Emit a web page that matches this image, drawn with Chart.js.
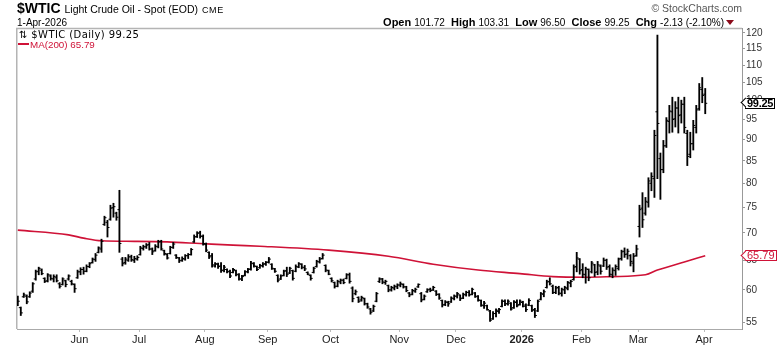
<!DOCTYPE html>
<html>
<head>
<meta charset="utf-8">
<script src="https://cdn.jsdelivr.net/npm/chart.js@4/dist/chart.umd.min.js"></script>
<style>
body { margin: 0; background: #fff; }
#wrap { position: relative; width: 780px; height: 345px; font-family: "Liberation Sans", Arial, sans-serif; color: #000; overflow: hidden; }
#wrap canvas { position: absolute; left: 0; top: 0; }
.t { position: absolute; white-space: nowrap; line-height: 1; }
#title { left: 17px; top: 1px; font-size: 14px; }
#title .sym { font-weight: bold; }
#title .nm { font-size: 10.5px; }
#title .ex { font-size: 9px; letter-spacing: 0.6px; }
#date { left: 17px; top: 17.5px; font-size: 10px; }
#quote { right: 46px; top: 16.7px; font-size: 11px; }
#quote span { font-size: 10px; }
#quote .tri { display: inline-block; width: 0; height: 0; border-left: 4px solid transparent; border-right: 4px solid transparent; border-top: 5px solid #8b0a1a; margin-left: 2px; vertical-align: 1px; }
#copy { right: 38px; top: 3px; font-size: 10.5px; color: #555; }
#leg1 { left: 19px; top: 29.8px; font-family: "DejaVu Sans", sans-serif; font-size: 10px; letter-spacing: 0.4px; }
#leg2 { left: 18px; top: 40px; font-size: 9.8px; color: #cf1237; }
#leg2 .ln { display: inline-block; width: 11px; height: 2px; background: #cf1237; vertical-align: 3px; margin-right: 1px; }
.tag { position: absolute; left: 745px; height: 9px; padding: 0 1px 0 1px; border: 1px solid; background: #fff; font-size: 11px; line-height: 9px; white-space: nowrap; }
.tag:before { content: ""; position: absolute; left: -4.5px; top: 0.5px; width: 6px; height: 6px; border-left: 1px solid; border-bottom: 1px solid; transform: rotate(45deg); background: #fff; z-index: 0; }
.tag b { position: relative; z-index: 1; font-weight: inherit; }
#tagClose { font-weight: bold; color: #000; letter-spacing: -0.3px; }
#tagMa { color: #cf1237; }
</style>
</head>
<body>
<div id="wrap">
  <canvas id="c" width="780" height="345"></canvas>
  <div class="t" id="title"><span class="sym">$WTIC</span> <span class="nm">Light Crude Oil - Spot (EOD)</span> <span class="ex">CME</span></div>
  <div class="t" id="date">1-Apr-2026</div>
  <div class="t" id="quote"></div>
  <div class="t" id="copy">© StockCharts.com</div>
  <div class="t" id="leg1"></div>
  <div class="t" id="leg2"></div>
  <div class="tag" id="tagClose"></div>
  <div class="tag" id="tagMa"></div>
</div>
<script>
// daily bars, 1-May-2025 .. 1-Apr-2026 (index = trading day)
const lows = [
  57.5,56.0,58.8,57.8,58.8,59.6,61.6,62.5,62.5,61.2,61.3,61.6,61.3,61.3,60.3,60.8,60.5,61.6,60.8,59.6,61.9,
  62.5,62.6,63.0,63.7,64.5,64.8,66.3,66.4,71.4,69.2,72.4,73.0,72.4,66.4,64.0,64.3,64.8,64.8,64.6,65.0,
  65.9,66.8,67.1,66.8,66.0,66.6,67.2,66.8,65.9,65.2,66.1,67.1,65.3,64.6,64.8,65.0,65.3,65.9,68.2,69.1,69.0,67.7,
  66.5,65.3,63.8,63.8,63.6,62.9,63.0,62.8,62.0,62.8,62.3,61.6,61.5,62.3,62.8,63.3,63.8,63.2,63.6,63.8,64.1,
  64.5,63.4,62.9,61.3,61.7,62.3,62.2,62.7,61.6,63.0,63.7,63.5,63.2,62.5,61.6,62.8,63.8,64.5,65.2,63.0,62.5,
  61.3,60.3,60.5,61.0,61.0,61.8,61.1,58.1,59.2,58.0,58.2,57.6,57.1,56.2,56.6,58.1,61.2,61.0,60.9,59.7,59.8,60.0,60.2,
  60.5,60.3,59.7,58.9,59.2,59.6,60.4,58.1,58.4,59.6,59.7,59.9,59.1,58.5,57.3,57.5,57.4,58.0,58.4,
  58.7,58.3,58.6,59.0,59.0,59.2,58.8,58.2,57.4,57.1,56.8,55.1,55.4,55.8,56.3,57.3,57.5,57.6,56.8,57.1,57.3,57.6,
  57.3,56.6,57.5,56.6,55.7,56.6,58.4,58.9,60.3,60.8,59.4,59.4,59.2,59.0,59.4,60.0,60.5,61.6,63.0,62.6,
  62.0,61.1,61.5,62.8,62.2,62.5,62.6,63.9,63.4,62.2,62.0,62.4,63.3,65.0,65.5,65.2,64.0,63.0,65.7,
  69.2,71.0,73.4,75.0,78.4,77.0,81.0,76.6,82.3,88.1,91.6,91.8,93.1,91.6,94.1,91.6,83.9,85.7,87.5,91.6,97.4,99.4,96.50
];
const highs = [
  59.0,57.3,59.5,59.2,59.7,61.2,63.3,63.8,63.5,62.0,62.7,62.5,62.5,62.5,61.2,62.0,61.6,62.5,61.6,61.0,63.3,
  63.7,63.8,64.2,64.6,65.4,66.2,67.4,68.8,73.2,72.4,75.4,75.8,74.0,78.5,65.5,65.5,66.0,65.9,65.7,65.8,
  67.5,67.7,68.0,68.2,67.2,67.8,68.6,68.6,66.8,66.2,67.5,68.2,66.0,65.5,65.6,66.0,66.2,67.1,69.6,70.2,70.3,69.6,
  68.1,66.5,66.2,64.6,64.5,64.6,64.1,63.5,63.3,63.6,63.3,62.7,62.4,63.2,63.6,64.8,64.6,64.0,64.3,64.6,64.8,
  65.5,64.4,63.6,62.5,62.5,63.3,63.8,63.8,63.3,64.2,64.6,64.4,64.1,63.0,62.5,63.8,65.0,65.5,66.2,64.2,63.3,
  62.0,61.3,61.6,61.8,61.8,62.7,62.8,60.5,60.0,58.9,59.0,58.7,57.9,57.1,57.6,59.6,62.0,61.9,61.6,60.8,60.6,60.8,61.0,
  61.3,61.0,60.6,59.6,60.1,60.3,61.0,59.6,59.2,60.2,60.3,60.6,59.9,59.4,58.4,58.3,58.2,58.9,59.2,
  59.6,59.2,59.5,59.8,59.9,60.3,59.6,59.1,58.4,58.2,57.6,56.8,56.6,57.0,57.1,58.4,58.4,58.4,58.0,58.3,58.4,58.4,
  58.2,57.8,58.6,57.6,57.1,58.4,59.6,60.0,61.6,62.0,60.8,60.6,60.6,60.3,60.6,61.4,61.6,64.2,66.4,65.3,
  64.4,63.8,63.5,64.8,64.3,64.8,64.2,65.4,65.2,64.2,63.7,64.2,65.4,66.8,67.2,67.0,66.0,66.2,67.7,
  75.4,78.0,77.0,81.2,82.3,92.3,119.3,86.8,89.8,95.5,98.7,100.9,99.7,100.9,100.1,100.9,92.3,91.8,94.8,98.7,104.7,106.4,103.31
];
const opens = [
  58.6,57.2,58.9,59.0,58.9,59.8,61.8,63.1,63.3,61.9,61.5,62.3,61.8,62.0,61.0,60.9,61.5,61.8,61.4,60.9,62.0,
  63.0,63.4,63.1,63.9,64.6,65.1,66.4,67.0,71.6,72.0,72.6,74.9,73.8,74.5,65.2,64.6,65.0,65.6,65.0,65.2,
  66.0,67.1,67.4,67.8,67.0,66.7,67.4,68.4,66.7,66.0,66.2,67.3,65.9,65.4,65.0,65.2,65.8,66.0,68.3,69.3,70.0,69.3,
  67.8,66.4,65.8,64.0,64.3,64.0,63.3,63.4,63.1,62.9,63.2,62.5,61.8,62.4,63.0,63.5,64.4,63.9,63.7,64.0,64.4,
  64.7,64.3,63.5,62.4,61.8,62.4,63.2,62.8,63.2,63.1,63.8,64.3,63.7,62.9,62.4,62.9,63.9,64.7,65.3,64.1,63.2,
  61.9,61.2,60.6,61.3,61.6,61.9,62.5,60.3,59.4,58.8,58.4,58.6,57.8,57.0,56.7,58.2,61.4,61.8,61.2,60.7,60.0,60.3,60.5,
  60.8,60.9,60.5,59.5,59.3,59.8,60.5,59.4,58.5,59.7,60.1,60.0,59.8,59.3,58.3,57.7,58.0,58.1,58.6,
  59.0,59.2,58.7,59.2,59.6,59.3,59.5,59.0,58.3,57.5,57.5,56.7,55.5,56.3,56.6,57.4,58.2,57.8,57.9,57.2,58.0,57.7,
  58.0,57.6,57.6,57.5,56.9,56.7,58.5,59.3,60.4,61.4,60.6,59.6,60.4,59.4,60.0,60.2,61.1,61.7,63.9,65.2,
  63.4,62.5,63.4,63.0,64.2,63.0,64.0,64.0,65.0,63.9,62.5,63.2,63.6,65.3,66.6,66.1,65.8,64.5,65.8,
  71.2,74.8,73.8,76.0,80.0,81.0,97.0,85.5,83.0,88.5,94.5,97.0,95.2,98.0,96.2,99.0,91.5,86.5,89.0,93.0,97.8,103.0,101.72
];
const closes = [
  58.2,56.4,59.2,58.1,59.5,61.0,63.0,63.6,62.7,61.4,62.5,61.9,62.2,61.5,60.6,61.8,60.9,62.3,61.0,60.2,63.0,
  63.4,63.1,63.9,64.4,65.2,65.9,67.2,68.4,72.9,71.0,74.8,75.1,73.0,68.0,64.4,65.2,65.6,65.1,65.3,65.5,
  67.2,67.4,67.7,67.0,66.5,67.5,68.3,67.0,66.2,65.4,67.3,67.9,65.5,64.9,65.3,65.8,66.0,66.9,69.2,69.9,69.4,68.0,
  66.8,65.6,64.2,64.4,63.9,63.2,63.8,63.0,62.3,63.4,62.6,61.8,62.2,63.0,63.4,64.5,64.0,63.4,64.1,64.3,64.6,
  65.2,63.6,63.1,61.6,62.3,63.1,62.6,63.6,61.9,63.9,64.4,63.8,63.5,62.6,61.9,63.6,64.8,65.2,65.9,63.3,62.6,
  61.5,60.6,61.4,61.6,61.2,62.5,61.4,58.6,59.7,58.2,58.8,57.8,57.3,56.5,57.4,59.4,61.8,61.3,61.4,60.0,60.4,60.6,60.8,
  61.0,60.5,59.9,59.2,59.9,60.1,60.9,58.4,59.0,60.0,59.9,60.4,59.3,58.7,57.6,58.1,57.8,58.7,59.0,
  59.4,58.6,59.3,59.6,59.2,60.1,58.9,58.4,57.6,57.9,56.9,55.3,56.3,56.8,56.9,58.2,57.8,58.2,57.0,58.1,57.5,58.2,
  57.4,56.9,58.3,56.8,56.0,58.2,59.4,59.7,61.3,61.0,59.6,60.3,59.5,60.1,60.4,61.2,61.4,63.8,65.4,63.2,
  62.6,63.5,62.0,64.5,62.9,64.2,63.1,65.0,63.8,62.6,63.3,63.9,65.2,66.5,66.0,66.6,64.8,65.7,67.0,
  74.5,72.5,76.2,80.5,81.5,91.0,94.0,83.0,88.5,94.8,97.2,95.0,98.0,96.0,99.0,93.0,86.0,89.0,93.5,97.5,103.5,101.38,99.25
];

// 200-day moving average, read at a few bar indexes
const maIdx  = [0, 17, 22, 28, 39, 50, 61, 72, 81, 104, 124, 139, 154, 168, 179, 190, 199, 210, 214, 223, 230];
const maVals = [70.5, 69.6, 69.0, 68.5, 68.4, 68.3, 68.0, 67.7, 67.5, 66.8, 65.7, 64.3, 63.3, 62.7, 62.2, 62.1, 62.2, 62.5, 63.3, 64.7, 65.79];

// axis labels
const monthStart = [21, 41, 63, 84, 105, 128, 147, 169, 189, 208, 230];
const monthLabels = ["Jun", "Jul", "Aug", "Sep", "Oct", "Nov", "Dec", "2026", "Feb", "Mar", "Apr"];
const yTicks = [55, 60, 65, 70, 75, 80, 85, 90, 95, 100, 105, 110, 115, 120];

const RED = "#cf1237";
const FONT = "'Liberation Sans', Arial, sans-serif";

const n = closes.length;
const last = closes[n - 1], prev = closes[n - 2];
const chg = last - prev;
const lastMa = maVals[maVals.length - 1];
document.getElementById("quote").innerHTML =
  "<b>Open</b> <span>" + opens[n - 1].toFixed(2) + "</span> &nbsp;<b>High</b> <span>" + highs[n - 1].toFixed(2) +
  "</span> &nbsp;<b>Low</b> <span>" + lows[n - 1].toFixed(2) + "</span> &nbsp;<b>Close</b> <span>" + last.toFixed(2) +
  "</span> &nbsp;<b>Chg</b> <span>" + chg.toFixed(2) + " (" + (chg / prev * 100).toFixed(2) + "%)</span><i class='tri'></i>";
document.getElementById("leg1").textContent = "\u21C5 $WTIC (Daily) " + last.toFixed(2);
document.getElementById("leg2").innerHTML = "<i class='ln'></i>MA(200) " + lastMa.toFixed(2);
document.getElementById("tagClose").innerHTML = "<b>" + last.toFixed(2) + "</b>";
document.getElementById("tagMa").innerHTML = "<b>" + lastMa.toFixed(2) + "</b>";

const framePlugin = {
  id: "frame",
  beforeDatasetsDraw(chart) {
    const { ctx, chartArea: a } = chart;
    ctx.save();
    ctx.strokeStyle = "#b4b4b4";
    ctx.lineWidth = 1.5;
    ctx.beginPath();
    ctx.moveTo(a.left - 0.25, a.bottom);
    ctx.lineTo(a.left - 0.25, a.top + 0.5);
    ctx.lineTo(a.right, a.top + 0.5);
    ctx.stroke();
    ctx.restore();
  }
};

const tagPlugin = {
  id: "tags",
  afterDraw(chart) {
    const y = chart.scales.y;
    const put = (id, v) => {
      document.getElementById(id).style.top = (y.getPixelForValue(v) - 5.5) + "px";
    };
    put("tagClose", last);
    put("tagMa", lastMa);
  }
};

new Chart(document.getElementById("c"), {
  type: "bar",
  data: {
    datasets: [
      {
        type: "line",
        data: maIdx.map((x, i) => ({ x: x, y: maVals[i] })),
        borderColor: RED,
        borderWidth: 1.6,
        pointRadius: 0,
        cubicInterpolationMode: "monotone",
        order: 3
      },
      {
        type: "bar",
        data: highs.map((h, i) => ({ x: i, y: [lows[i], h] })),
        backgroundColor: "#000",
        borderWidth: 0,
        barThickness: 1.2,
        order: 2
      },
      {
        type: "scatter",
        data: opens.map((o, i) => ({ x: i, y: o })),
        pointStyle: "dash",
        pointRotation: 180,
        pointRadius: 2,
        pointBorderWidth: 1,
        pointBorderColor: "#000",
        order: 1
      },
      {
        type: "scatter",
        data: closes.map((c, i) => ({ x: i, y: c })),
        pointStyle: "dash",
        pointRotation: 0,
        pointRadius: 2,
        pointBorderWidth: 1,
        pointBorderColor: "#000",
        order: 1
      }
    ]
  },
  options: {
    responsive: false,
    animation: false,
    devicePixelRatio: 1,
    events: [],
    layout: { padding: { left: 17, top: 28, right: 0, bottom: 0 } },
    plugins: { legend: { display: false }, tooltip: { enabled: false } },
    scales: {
      x: {
        type: "linear",
        offset: false,
        min: -0.27,
        max: 242.3,
        afterFit: (s) => { s.height = 16; },
        afterBuildTicks: (s) => { s.ticks = monthStart.map(v => ({ value: v - 0.4 })); },
        grid: { display: true, drawOnChartArea: false, tickLength: 3, color: "#bbb", offset: false },
        border: { display: true, color: "#aaa", dash: [1, 1] },
        ticks: {
          autoSkip: false,
          maxRotation: 0,
          padding: 1,
          color: "#222",
          font: (ctx) => ({ family: FONT, size: 11, weight: ctx.index === 7 ? "bold" : "normal" }),
          callback: (v, i) => monthLabels[i]
        }
      },
      y: {
        type: "logarithmic",
        position: "right",
        min: 54,
        max: 121.6,
        afterFit: (s) => { s.width = 38; },
        afterBuildTicks: (s) => { s.ticks = yTicks.map(v => ({ value: v })); },
        grid: { display: true, drawOnChartArea: false, tickLength: 3, color: "#999" },
        border: { display: true, color: "#999" },
        ticks: {
          padding: 1,
          color: "#333",
          font: { family: FONT, size: 10 },
          callback: (v) => String(v)
        }
      }
    }
  },
  plugins: [framePlugin, tagPlugin]
});
</script>
</body>
</html>
